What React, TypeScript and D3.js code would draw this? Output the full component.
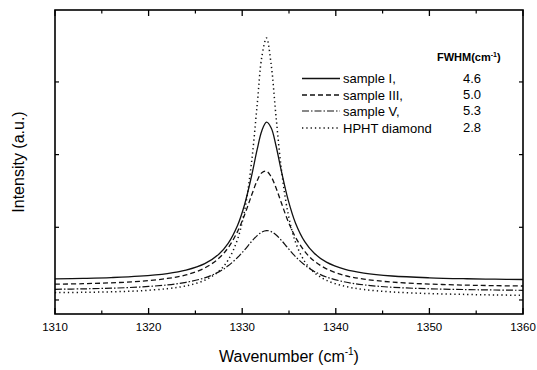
import React from 'react';
import * as d3 from 'd3';

const WAVENUMBERS = [1310, 1313, 1316, 1319, 1322, 1324, 1326, 1327.5, 1328.5, 1329.5, 1330.25, 1331, 1331.6, 1332.1, 1332.6, 1333.1, 1333.6, 1334.2, 1334.9, 1335.7, 1336.7, 1337.7, 1339, 1341, 1343, 1346, 1350, 1354, 1357, 1360];

const SAMPLE_I = [0.289, 0.297, 0.308, 0.327, 0.364, 0.411, 0.500, 0.630, 0.779, 1.025, 1.311, 1.706, 2.071, 2.329, 2.446, 2.367, 2.129, 1.766, 1.381, 1.057, 0.799, 0.642, 0.520, 0.421, 0.370, 0.330, 0.305, 0.292, 0.286, 0.282];
const SAMPLE_III = [0.217, 0.224, 0.236, 0.256, 0.296, 0.345, 0.440, 0.573, 0.719, 0.941, 1.170, 1.440, 1.642, 1.752, 1.772, 1.695, 1.547, 1.330, 1.085, 0.862, 0.665, 0.535, 0.429, 0.336, 0.287, 0.246, 0.219, 0.204, 0.197, 0.192];
const SAMPLE_V = [0.147, 0.153, 0.162, 0.178, 0.207, 0.243, 0.305, 0.387, 0.470, 0.584, 0.689, 0.804, 0.886, 0.935, 0.955, 0.941, 0.898, 0.819, 0.712, 0.596, 0.479, 0.393, 0.316, 0.247, 0.208, 0.175, 0.154, 0.143, 0.137, 0.133];
const HPHT = [0.101, 0.105, 0.112, 0.126, 0.156, 0.194, 0.272, 0.395, 0.549, 0.835, 1.225, 1.896, 2.686, 3.349, 3.605, 3.235, 2.543, 1.784, 1.189, 0.793, 0.524, 0.378, 0.270, 0.187, 0.144, 0.110, 0.088, 0.076, 0.069, 0.064];

const SERIES_LABELS = ['sample I,', 'sample III,', 'sample V,', 'HPHT diamond'];
const FWHM_VALUES = ['4.6', '5.0', '5.3', '2.8'];
const X_TICKS = [1310, 1320, 1330, 1340, 1350, 1360];
const X_MINOR = [1315, 1325, 1335, 1345, 1355];
const Y_TICKS = [0, 1, 2, 3];

const FONT = 'Liberation Sans, Arial, Helvetica, sans-serif';

export default function App() {
  const x = d3.scaleLinear().domain([1310, 1360]).range([55, 523]);
  const y = d3.scaleLinear().domain([-0.193, 3.99]).range([314, 10]);
  const series = [SAMPLE_I, SAMPLE_III, SAMPLE_V, HPHT];
  const dashes = ['none', '5,3', '7,2,1.5,2', '1.3,3'];
  const widths = [1.3, 1.3, 1.2, 1.5];
  const line = d3
    .line<number>()
    .x((_, i) => x(WAVENUMBERS[i]))
    .y((d) => y(d))
    .curve(d3.curveCatmullRom.alpha(0.5));

  const [x0, x1] = x.range();
  const [y0, y1] = y.range();
  const legendRows = [78.5, 95, 111, 128];

  return (
    <svg width={537} height={370} style={{ position: 'absolute', left: 0, top: 0, background: '#fff' }}>
      <rect x={0} y={0} width={537} height={370} fill="#fff" />
      {series.map((s, i) => (
        <path key={i} d={line(s) || ''} fill="none" stroke="#111" strokeWidth={widths[i]} strokeDasharray={dashes[i]} />
      ))}
      {/* frame */}
      <rect x={x0} y={y1} width={x1 - x0} height={y0 - y1} fill="none" stroke="#000" strokeWidth={1.6} />
      {/* x ticks bottom/top */}
      {X_TICKS.map((t) => (
        <g key={'xt' + t}>
          <line x1={x(t)} x2={x(t)} y1={y0} y2={y0 - 6} stroke="#000" strokeWidth={1.3} />
          <line x1={x(t)} x2={x(t)} y1={y1} y2={y1 + 6} stroke="#000" strokeWidth={1.3} />
          <text x={x(t)} y={331} textAnchor="middle" fontFamily={FONT} fontSize={11.5} fill="#000">{t}</text>
        </g>
      ))}
      {X_MINOR.map((t) => (
        <g key={'xm' + t}>
          <line x1={x(t)} x2={x(t)} y1={y0} y2={y0 - 3.5} stroke="#000" strokeWidth={1.2} />
          <line x1={x(t)} x2={x(t)} y1={y1} y2={y1 + 3.5} stroke="#000" strokeWidth={1.2} />
        </g>
      ))}
      {Y_TICKS.map((t) => (
        <g key={'yt' + t}>
          <line x1={x0} x2={x0 + 4} y1={y(t)} y2={y(t)} stroke="#000" strokeWidth={1.2} />
          <line x1={x1} x2={x1 - 4} y1={y(t)} y2={y(t)} stroke="#000" strokeWidth={1.2} />
        </g>
      ))}
      {/* axis titles */}
      <text x={289} y={362} textAnchor="middle" fontFamily={FONT} fontSize={16} fill="#000">
        Wavenumber (cm<tspan fontSize={10} dy={-7}>-1</tspan><tspan dy={7}>)</tspan>
      </text>
      <text transform="translate(24,162) rotate(-90)" textAnchor="middle" fontFamily={FONT} fontSize={16} fill="#000">
        Intensity (a.u.)
      </text>
      {/* legend */}
      <text x={437} y={61} fontFamily={FONT} fontSize={11} fontWeight="bold" fill="#000">
        FWHM(cm<tspan fontSize={7} dy={-4}>-1</tspan><tspan dy={4}>)</tspan>
      </text>
      {SERIES_LABELS.map((lab, i) => (
        <g key={'lg' + i}>
          <line x1={302} x2={340} y1={legendRows[i]} y2={legendRows[i]} stroke="#111" strokeWidth={widths[i]} strokeDasharray={dashes[i]} />
          <text x={343} y={legendRows[i] + 4.5} fontFamily={FONT} fontSize={13} fill="#000">{lab}</text>
          <text x={463} y={legendRows[i] + 4} fontFamily={FONT} fontSize={13} fill="#000">{FWHM_VALUES[i]}</text>
        </g>
      ))}
    </svg>
  );
}
